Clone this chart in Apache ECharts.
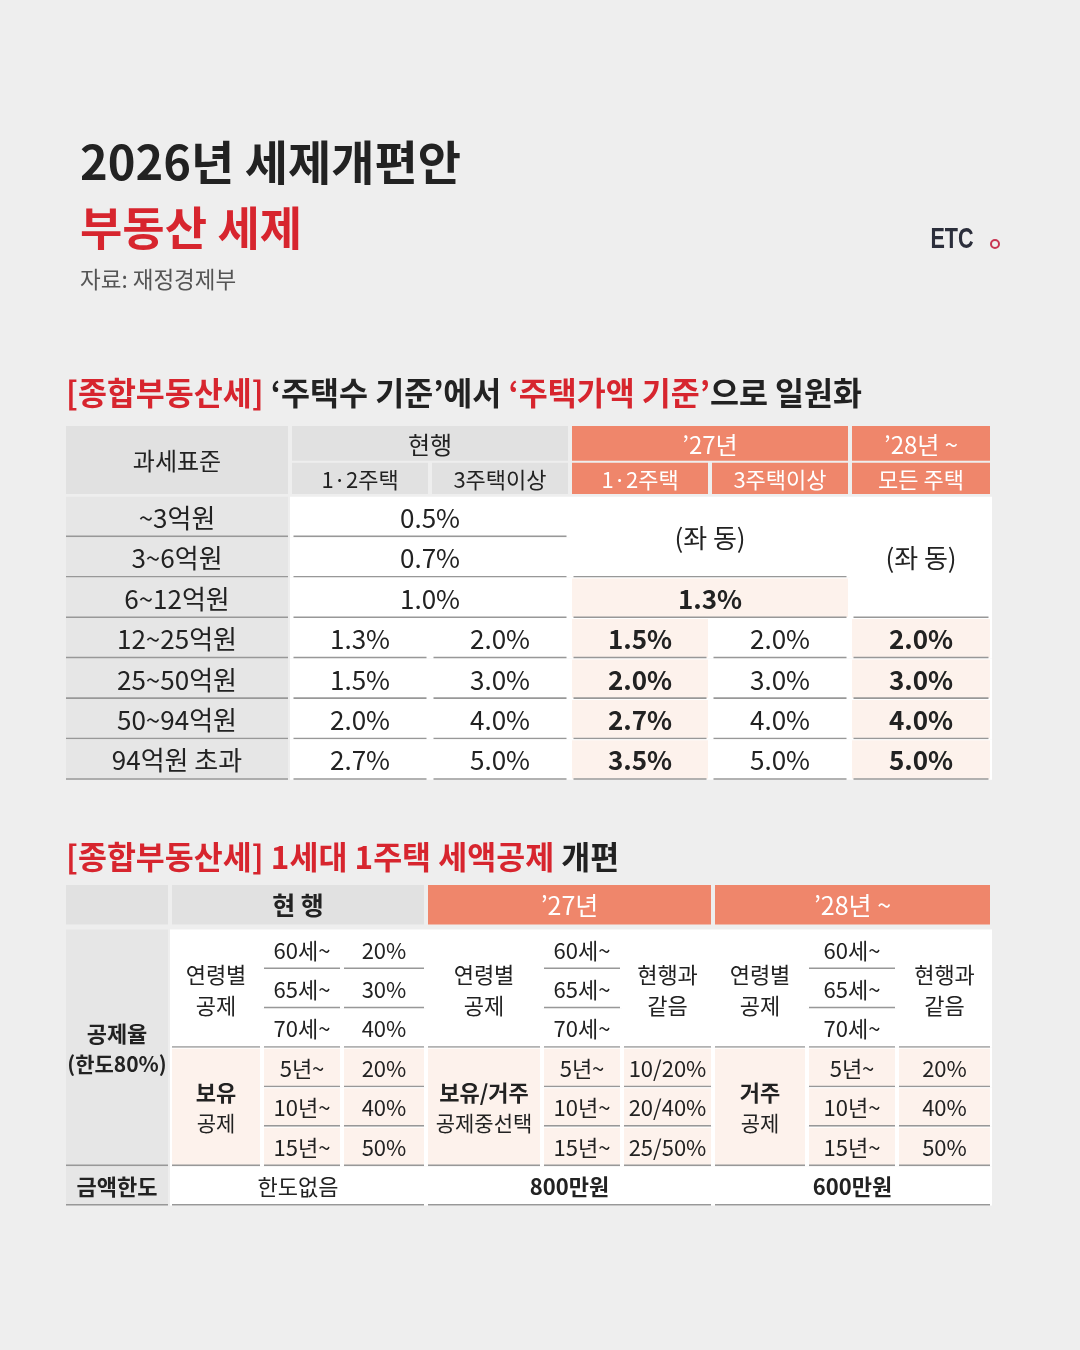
<!DOCTYPE html>
<html>
<head>
<meta charset="utf-8">
<script src="https://cdn.jsdelivr.net/npm/echarts@6/dist/echarts.min.js"></script>
<style>
  html, body { margin: 0; padding: 0; background: #eeeeee; }
  #main { width: 1080px; height: 1350px; }
</style>
</head>
<body>
<div id="main"></div>
<script>
var FONT = '"Noto Sans CJK KR", "Noto Sans", sans-serif';
var RED = '#d7252e';
var INK = '#222222';

// ---- 표 1: 종합부동산세 세율 (null = 위/왼쪽 칸과 병합) ----
var brackets = ['~3억원', '3~6억원', '6~12억원', '12~25억원', '25~50억원', '50~94억원', '94억원 초과'];
var rateNow12 = ['0.5%', '0.7%', '1.0%', '1.3%', '1.5%', '2.0%', '2.7%'];
var rateNow3 = [null, null, null, '2.0%', '3.0%', '4.0%', '5.0%'];
var rate27_12 = ['(좌 동)', null, '1.3%', '1.5%', '2.0%', '2.7%', '3.5%'];
var rate27_3 = [null, null, null, '2.0%', '3.0%', '4.0%', '5.0%'];
var rate28 = ['(좌 동)', null, null, '2.0%', '3.0%', '4.0%', '5.0%'];

// ---- 표 2: 1세대 1주택 세액공제 ----
var periods = ['현 행', '’27년', '’28년 ~'];
var ageBands = ['60세~', '65세~', '70세~'];
var ageRateNow = ['20%', '30%', '40%'];
var holdBands = ['5년~', '10년~', '15년~'];
var holdTitle = ['보유', '보유/거주', '거주'];
var holdSub = ['공제', '공제중선택', '공제'];
var holdRates = [
  ['20%', '40%', '50%'],
  ['10/20%', '20/40%', '25/50%'],
  ['20%', '40%', '50%']
];
var limits = ['한도없음', '800만원', '600만원'];

// 칸 너비/높이 (레이아웃)
var t1ColW = [226, 140, 140, 140, 140, 142];
var t1RowH = [0.86, 0.05, 0.77, 0.07, 1, 1, 1, 1, 1, 1, 1];
var t2ColW = [106, 92, 80, 84, 116, 80, 91, 94, 90, 95];
var t2RowH = [1, 0.13, 1, 1, 1, 1, 1, 1, 1];

var KIND = {
  head:   {fill: '#e1e1e1', color: INK, inset: 2, head: true},
  headB:  {fill: '#e1e1e1', color: INK, inset: 2, head: true, bold: true},
  accent: {fill: '#ef866b', color: '#ffffff', inset: 2, head: true},
  label:  {fill: '#e6e6e6', color: INK, inset: 2, line: true},
  labelB: {fill: '#e6e6e6', color: INK, inset: 2, line: true, bold: true},
  plain:  {fill: '#ffffff', color: INK, inset: 0, line: true},
  plainB: {fill: '#ffffff', color: INK, inset: 0, line: true, bold: true},
  hi:     {fill: '#ffffff', color: INK, inset: 0, line: true, tint: true, bold: true},
  tint:   {fill: '#ffffff', color: INK, inset: 0, line: true, tint: true}
};
var TINT = '#fdf2ec';
var LINE = '#989898';

function edges(ws) {
  var e = [0];
  ws.forEach(function (w, i) { e.push(e[i] + w); });
  return e;
}
function sum(ws) { return ws.reduce(function (a, b) { return a + b; }, 0); }

// 표 1 칸 만들기
var t1Cells = [
  {c: [0, 1], r: [0, 3], t: '과세표준', k: 'head', size: 24},
  {c: [1, 3], r: [0, 1], t: '현행', k: 'head', size: 24},
  {c: [1, 2], r: [2, 3], t: '1·2주택', k: 'head'},
  {c: [2, 3], r: [2, 3], t: '3주택이상', k: 'head'},
  {c: [3, 5], r: [0, 1], t: '’27년', k: 'accent', size: 24},
  {c: [3, 4], r: [2, 3], t: '1·2주택', k: 'accent'},
  {c: [4, 5], r: [2, 3], t: '3주택이상', k: 'accent'},
  {c: [5, 6], r: [0, 1], t: '’28년 ~', k: 'accent', size: 24},
  {c: [5, 6], r: [2, 3], t: '모든 주택', k: 'accent'}
];
brackets.forEach(function (name, i) {
  var r = [4 + i, 5 + i];
  t1Cells.push({c: [0, 1], r: r, t: name, k: 'label'});
  if (rateNow3[i] === null) {
    t1Cells.push({c: [1, 3], r: r, t: rateNow12[i], k: 'plain'});
  } else {
    t1Cells.push({c: [1, 2], r: r, t: rateNow12[i], k: 'plain'});
    t1Cells.push({c: [2, 3], r: r, t: rateNow3[i], k: 'plain'});
  }
  if (rate27_3[i] !== null) {
    t1Cells.push({c: [3, 4], r: r, t: rate27_12[i], k: 'hi'});
    t1Cells.push({c: [4, 5], r: r, t: rate27_3[i], k: 'plain'});
  }
  if (rate28[i] !== null && i > 0) {
    t1Cells.push({c: [5, 6], r: r, t: rate28[i], k: 'hi'});
  }
});
t1Cells.push({c: [3, 5], r: [4, 6], t: rate27_12[0], k: 'plain'});
t1Cells.push({c: [3, 5], r: [6, 7], t: rate27_12[2], k: 'hi'});
t1Cells.push({c: [5, 6], r: [4, 7], t: rate28[0], k: 'plain'});

// 표 2 칸 만들기
var t2Cells = [
  {c: [0, 1], r: [0, 1], t: '', k: 'head'},
  {c: [1, 4], r: [0, 1], t: periods[0], k: 'headB', size: 25},
  {c: [4, 7], r: [0, 1], t: periods[1], k: 'accent', size: 25},
  {c: [7, 10], r: [0, 1], t: periods[2], k: 'accent', size: 25},
  {c: [0, 1], r: [2, 8], t: '{b|공제율}\n{m|(한도80%)}', k: 'label', rich: true},
  {c: [0, 1], r: [8, 9], t: '금액한도', k: 'labelB'}
];
[0, 1, 2].forEach(function (s) {
  var c0 = 1 + s * 3;
  t2Cells.push({c: [c0, c0 + 1], r: [2, 5], t: '연령별\n공제', k: 'plain'});
  t2Cells.push({c: [c0, c0 + 1], r: [5, 8], t: '{b|' + holdTitle[s] + '}\n{n|' + holdSub[s] + '}', k: 'tint', rich: true});
  ageBands.forEach(function (a, i) {
    t2Cells.push({c: [c0 + 1, c0 + 2], r: [2 + i, 3 + i], t: a, k: 'plain'});
  });
  holdBands.forEach(function (h, i) {
    t2Cells.push({c: [c0 + 1, c0 + 2], r: [5 + i, 6 + i], t: h, k: 'tint'});
  });
  if (s === 0) {
    ageRateNow.forEach(function (v, i) {
      t2Cells.push({c: [c0 + 2, c0 + 3], r: [2 + i, 3 + i], t: v, k: 'plain'});
    });
  } else {
    t2Cells.push({c: [c0 + 2, c0 + 3], r: [2, 5], t: '현행과\n같음', k: 'plain'});
  }
  holdRates[s].forEach(function (v, i) {
    t2Cells.push({c: [c0 + 2, c0 + 3], r: [5 + i, 6 + i], t: v, k: 'tint'});
  });
  t2Cells.push({c: [c0, c0 + 3], r: [8, 9], t: limits[s], k: s ? 'plainB' : 'plain'});
});

function toData(cells, colW, rowH) {
  var xe = edges(colW), ye = edges(rowH);
  return cells.map(function (c) {
    return [xe[c.c[0]], xe[c.c[1]], ye[c.r[0]], ye[c.r[1]]];
  });
}

function makeRenderer(cells, opt) {
  return function (params, api) {
    var cell = cells[params.dataIndex];
    var st = KIND[cell.k];
    var a = api.coord([api.value(0), api.value(2)]);
    var b = api.coord([api.value(1), api.value(3)]);
    var x0 = a[0] + st.inset, x1 = b[0] - st.inset, y0 = a[1], y1 = b[1];
    var kids = [{
      type: 'rect',
      shape: {x: x0, y: y0, width: x1 - x0, height: y1 - y0},
      style: {fill: st.fill}
    }];
    if (st.tint) {
      kids.push({
        type: 'rect',
        shape: {x: x0 + 2, y: y0 + 1, width: x1 - x0 - 4, height: y1 - y0 - 2},
        style: {fill: TINT}
      });
    }
    if (st.line) {
      var li = st.inset ? 0 : opt.lineInset;
      kids.push({
        type: 'line',
        shape: {x1: x0 + li, y1: y1 - 0.8, x2: x1 - li, y2: y1 - 0.8},
        style: {stroke: LINE, lineWidth: 1.6}
      });
    }
    var ts = {
      text: cell.t,
      x: (x0 + x1) / 2,
      y: (y0 + y1) / 2 + 1,
      align: 'center',
      verticalAlign: 'middle',
      fontFamily: FONT,
      fontSize: cell.size || (st.head ? opt.headSize : opt.size),
      fontWeight: st.bold ? 'bold' : 'normal',
      fill: st.color,
      lineHeight: opt.lineHeight
    };
    if (cell.rich) ts.rich = opt.rich;
    kids.push({type: 'text', style: ts});
    return {type: 'group', children: kids, silent: true};
  };
}

var richT2 = {
  b: {fontFamily: FONT, fontSize: 22, fontWeight: 'bold', fill: INK, lineHeight: 31},
  m: {fontFamily: FONT, fontSize: 21, fontWeight: 'bold', fill: INK, lineHeight: 31},
  n: {fontFamily: FONT, fontSize: 21, fill: INK, lineHeight: 31}
};

var chart = echarts.init(document.getElementById('main'));

var option = {
  backgroundColor: '#eeeeee',
  animation: false,
  grid: [
    {left: 64, top: 426, width: 928, height: sum(t1RowH) * 40.43},
    {left: 64, top: 885, width: 928, height: sum(t2RowH) * 39.43}
  ],
  xAxis: [
    {type: 'value', gridIndex: 0, min: 0, max: sum(t1ColW), show: false},
    {type: 'value', gridIndex: 1, min: 0, max: sum(t2ColW), show: false}
  ],
  yAxis: [
    {type: 'value', gridIndex: 0, min: 0, max: sum(t1RowH), inverse: true, show: false},
    {type: 'value', gridIndex: 1, min: 0, max: sum(t2RowH), inverse: true, show: false}
  ],
  series: [
    {
      type: 'custom',
      xAxisIndex: 0,
      yAxisIndex: 0,
      clip: false,
      encode: {x: [0, 1], y: [2, 3]},
      data: toData(t1Cells, t1ColW, t1RowH),
      renderItem: makeRenderer(t1Cells, {size: 26, headSize: 22, lineInset: 3.5, lineHeight: 30})
    },
    {
      type: 'custom',
      xAxisIndex: 1,
      yAxisIndex: 1,
      clip: false,
      encode: {x: [0, 1], y: [2, 3]},
      data: toData(t2Cells, t2ColW, t2RowH),
      renderItem: makeRenderer(t2Cells, {size: 22, headSize: 24, lineInset: 2, lineHeight: 31, rich: richT2})
    }
  ],
  graphic: [
    {
      type: 'text', x: 80, y: 162,
      style: {text: '2026년 세제개편안', fontFamily: FONT, fontSize: 47, fontWeight: 'bold', fill: INK, verticalAlign: 'middle'}
    },
    {
      type: 'text', x: 80, y: 228,
      style: {text: '부동산 세제', fontFamily: FONT, fontSize: 46, fontWeight: 'bold', fill: RED, verticalAlign: 'middle'}
    },
    {
      type: 'text', x: 80, y: 279,
      style: {text: '자료: 재정경제부', fontFamily: FONT, fontSize: 22.5, fill: '#555555', verticalAlign: 'middle'}
    },
    {
      type: 'text', x: 952, y: 240, scaleX: 0.72,
      style: {text: 'ETC', fontFamily: '"Liberation Sans", "DejaVu Sans", sans-serif', fontSize: 30, fontWeight: 'bold', fill: '#2b2e3b', align: 'center', verticalAlign: 'middle'}
    },
    {
      type: 'circle', shape: {cx: 995, cy: 244, r: 4},
      style: {fill: 'none', stroke: '#c83552', lineWidth: 2}
    },
    {
      type: 'text', x: 66, y: 393,
      style: {
        text: '{r|[종합부동산세]} {k|‘주택수 기준’에서} {r|‘주택가액 기준’}{k|으로 일원화}',
        fontFamily: FONT, fontSize: 31.5, fontWeight: 'bold', fill: INK, verticalAlign: 'middle',
        rich: {
          r: {fontFamily: FONT, fontSize: 31.5, fontWeight: 'bold', fill: RED},
          k: {fontFamily: FONT, fontSize: 31.5, fontWeight: 'bold', fill: INK}
        }
      }
    },
    {
      type: 'text', x: 66, y: 857,
      style: {
        text: '{r|[종합부동산세] 1세대 1주택 세액공제} {k|개편}',
        fontFamily: FONT, fontSize: 31.5, fontWeight: 'bold', fill: INK, verticalAlign: 'middle',
        rich: {
          r: {fontFamily: FONT, fontSize: 31.5, fontWeight: 'bold', fill: RED},
          k: {fontFamily: FONT, fontSize: 31.5, fontWeight: 'bold', fill: INK}
        }
      }
    }
  ]
};

chart.setOption(option);
</script>
</body>
</html>
